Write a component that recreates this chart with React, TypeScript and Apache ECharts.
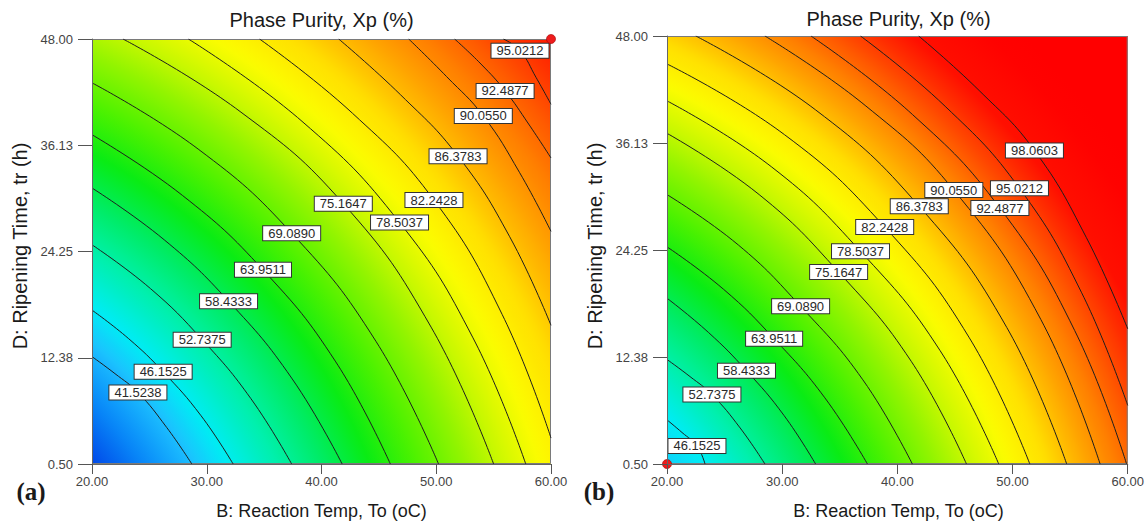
import React, { useEffect, useRef } from "react";
import * as echarts from "echarts";

const SANS = '"Liberation Sans", Arial, Helvetica, sans-serif';
const SERIF = '"Liberation Serif", "Times New Roman", serif';

// ---------- axes ----------
const X_TICKS = [20, 30, 40, 50, 60];
const Y_TICKS = [0.5, 12.375, 24.25, 36.125, 48];
const TITLE = "Phase Purity, Xp (%)";
const X_NAME = "B: Reaction Temp, To (oC)";
const Y_NAME = "D: Ripening Time, tr (h)";

// ---------- panel (a) ----------
const LEVELS_A = [41.5238, 46.1525, 52.7375, 58.4333, 63.9511, 69.089, 75.1647, 78.5037, 82.2428, 86.3783, 90.055, 92.4877, 95.0212];
const CONTOURS_A = [
  [[20, 12.5], [22.0, 10.6], [24.0, 8.5], [26.5, 4.6], [28.7, 0.5]],
  [[20, 17.7], [23.2, 14.5], [26.2, 10.8], [29.5, 5.9], [32.3, 0.5]],
  [[20, 25.0], [25.1, 20.1], [29.6, 14.4], [33.85, 7.8], [37.4, 0.5]],
  [[20, 31.35], [26.3, 25.55], [31.9, 18.7], [37.4, 10.1], [41.8, 0.5]],
  [[20, 37.3], [27.9, 30.5], [34.9, 22.2], [41.2, 12.0], [46.0, 0.5]],
  [[20, 43.1], [29.25, 35.7], [37.4, 26.3], [44.75, 14.2], [50.2, 0.5]],
  [[22.7, 48], [32.9, 39.9], [41.9, 29.6], [49.55, 15.8], [55.0, 0.5]],
  [[28.4, 48], [38.3, 38.8], [46.8, 27.5], [53.2, 14.6], [57.8, 0.5]],
  [[34.6, 48], [42.7, 39.7], [49.8, 30.0], [55.75, 17.2], [60, 3.4]],
  [[41.5, 48], [46.9, 41.75], [51.9, 34.9], [56.4, 25.9], [60, 16.0]],
  [[47.6, 48], [50.9, 43.8], [54.1, 39.4], [57.25, 33.1], [60, 26.5]],
  [[51.6, 48], [53.9, 45.2], [56.0, 42.2], [58.05, 38.5], [60, 34.7]],
  [[55.85, 48], [57.3, 46.7], [58.7, 43.7], [60, 40.7]],
];
const LABELS_A = [
  [24.0, 8.5], [26.2, 10.8], [29.6, 14.4], [31.9, 18.7], [34.9, 22.2], [37.4, 26.3],
  [41.9, 29.6], [46.8, 27.5], [49.8, 30.0], [51.9, 34.9], [54.1, 39.4], [56.0, 42.2], [57.3, 46.7],
];
const DESIGN_POINTS_A = [[60, 48]];
const CORNER_VALUES_A = [34, 97.5]; // bottom-left, top-right

// ---------- panel (b) ----------
const LEVELS_B = [46.1525, 52.7375, 58.4333, 63.9511, 69.089, 75.1647, 78.5037, 82.2428, 86.3783, 90.055, 92.4877, 95.0212, 98.0603];
const CONTOURS_B = [
  [[20, 5.4], [21.3, 4.0], [22.6, 2.5], [23.3, 0.5]],
  [[20, 12.1], [22.0, 10.2], [23.9, 8.2], [26.35, 4.5], [28.5, 0.5]],
  [[20, 18.9], [23.6, 15.1], [26.9, 10.85], [30.15, 5.9], [32.9, 0.5]],
  [[20, 24.6], [24.9, 19.9], [29.3, 14.4], [33.7, 7.85], [37.4, 0.5]],
  [[20, 30.4], [26.2, 24.8], [31.6, 18.0], [37.0, 9.85], [41.3, 0.5]],
  [[20, 37.2], [28.0, 30.4], [34.9, 21.8], [41.2, 11.9], [46.0, 0.5]],
  [[20, 40.8], [29.05, 33.5], [36.8, 24.1], [43.7, 13.1], [48.8, 0.5]],
  [[20, 44.9], [30.2, 37.05], [38.9, 26.8], [46.25, 14.5], [51.5, 0.5]],
  [[22.5, 48], [32.9, 39.8], [41.9, 29.1], [49.5, 15.65], [54.7, 0.5]],
  [[28.5, 48], [37.2, 40.3], [44.9, 30.9], [52.45, 16.55], [57.6, 0.5]],
  [[32.5, 48], [41.3, 39.3], [48.9, 28.9], [55.4, 15.3], [59.9, 0.5]],
  [[36.8, 48], [44.15, 40.2], [50.6, 31.1], [56.0, 19.5], [60, 7.0]],
  [[41.85, 48], [47.1, 41.95], [51.9, 35.3], [56.4, 25.65], [60, 15.5]],
];
const LABELS_B = [
  [22.6, 2.5], [23.9, 8.2], [26.9, 10.85], [29.3, 14.4], [31.6, 18.0], [34.9, 21.8], [36.8, 24.1],
  [38.9, 26.8], [41.9, 29.1], [44.9, 30.9], [48.9, 28.9], [50.6, 31.1], [51.9, 35.3],
];
const DESIGN_POINTS_B = [[20, 0.5]];
const CORNER_VALUES_B = [43.5, 100.5];

// ---------- colour scale (value -> colour) ----------
const SCALE_VALUES = [34, 38, 42, 46, 52, 57, 62, 67, 72, 76, 80, 84, 88, 91, 94, 97, 99];
const SCALE_COLORS = [
  "#0048e8", "#0888f8", "#1cc0ff", "#00ecf4", "#00f0a8", "#00ec64", "#08ec14", "#4cf200",
  "#90f400", "#ccf800", "#fcfc00", "#ffe000", "#ffa800", "#ff8000", "#ff5000", "#ff2000", "#ff0000",
];

function hexToRgb(h: string) {
  const n = parseInt(h.slice(1), 16);
  return [(n >> 16) & 255, (n >> 8) & 255, n & 255];
}
function colorFor(v: number): string {
  const vs = SCALE_VALUES;
  const cs = SCALE_COLORS;
  if (v <= vs[0]) return cs[0];
  if (v >= vs[vs.length - 1]) return cs[cs.length - 1];
  for (let i = 0; i < vs.length - 1; i++) {
    if (v <= vs[i + 1]) {
      const t = (v - vs[i]) / (vs[i + 1] - vs[i]);
      const a = hexToRgb(cs[i]);
      const b = hexToRgb(cs[i + 1]);
      const c = a.map((x, k) => Math.round(x + (b[k] - x) * t));
      return `rgb(${c[0]},${c[1]},${c[2]})`;
    }
  }
  return cs[cs.length - 1];
}

function circum(a: number[], b: number[], c: number[]) {
  const d = 2 * (a[0] * (b[1] - c[1]) + b[0] * (c[1] - a[1]) + c[0] * (a[1] - b[1]));
  if (Math.abs(d) < 1e-6) return null;
  const a2 = a[0] * a[0] + a[1] * a[1];
  const b2 = b[0] * b[0] + b[1] * b[1];
  const c2 = c[0] * c[0] + c[1] * c[1];
  const ux = (a2 * (b[1] - c[1]) + b2 * (c[1] - a[1]) + c2 * (a[1] - b[1])) / d;
  const uy = (a2 * (c[0] - b[0]) + b2 * (a[0] - c[0]) + c2 * (b[0] - a[0])) / d;
  return [ux, uy];
}
function median(arr: number[]) {
  const s = arr.slice().sort((x, y) => x - y);
  const m = Math.floor(s.length / 2);
  return s.length % 2 ? s[m] : (s[m - 1] + s[m]) / 2;
}

function makeBackground(contours: number[][][], levels: number[], corners: number[]) {
  return (params: any, api: any) => {
    const cs = params.coordSys;
    const pix = contours.map((l) => l.map((p) => api.coord(p)));
    const cxs: number[] = [];
    const cys: number[] = [];
    pix.forEach((l) => {
      if (l.length < 5) return;
      const c = circum(l[0], l[2], l[4]);
      if (c) {
        cxs.push(c[0]);
        cys.push(c[1]);
      }
    });
    const cx = median(cxs);
    const cy = median(cys);
    const dist = (p: number[]) => Math.hypot(p[0] - cx, p[1] - cy);
    const radii = pix.map((l) => l.reduce((s, p) => s + dist(p), 0) / l.length);
    const rLow = dist([cs.x, cs.y + cs.height]);
    const rHigh = dist([cs.x + cs.width, cs.y]);
    const knots: number[][] = [[rLow, corners[0]]];
    radii.forEach((r, i) => knots.push([r, levels[i]]));
    knots.push([rHigh, corners[1]]);
    const stops: any[] = [];
    let last = -1;
    for (let i = 0; i < knots.length - 1; i++) {
      const [r0, v0] = knots[i];
      const [r1, v1] = knots[i + 1];
      for (let k = 0; k < 6; k++) {
        const t = k / 6;
        const off = Math.min(1, Math.max(0, (r0 + (r1 - r0) * t) / rHigh));
        if (off <= last) continue;
        last = off;
        stops.push({ offset: off, color: colorFor(v0 + (v1 - v0) * t) });
      }
    }
    stops.push({ offset: 1, color: colorFor(corners[1]) });
    return {
      type: "group",
      children: [
        {
          type: "rect",
          shape: { x: cs.x, y: cs.y, width: cs.width, height: cs.height },
          style: {
            fill: { type: "radial", x: cx, y: cy, r: rHigh, global: true, colorStops: stops },
          },
        },
        {
          type: "rect",
          shape: { x: cs.x + 0.5, y: cs.y + 0.5, width: cs.width - 1, height: cs.height - 1 },
          style: { fill: "none", stroke: "#7a7a7a", lineWidth: 1 },
        },
      ],
    };
  };
}

function panelSeries(gi: number, contours: number[][][], levels: number[], labels: number[][], points: number[][], corners: number[]) {
  const s: any[] = [];
  s.push({
    type: "custom",
    xAxisIndex: gi,
    yAxisIndex: gi,
    z: 1,
    silent: true,
    data: [[20, 0.5]],
    encode: { x: 0, y: 1 },
    renderItem: makeBackground(contours, levels, corners),
  });
  contours.forEach((line, i) => {
    s.push({
      type: "line",
      name: levels[i].toFixed(4),
      xAxisIndex: gi,
      yAxisIndex: gi,
      data: line,
      smooth: 0.45,
      symbol: "none",
      lineStyle: { color: "#1e1e1e", width: 1 },
      silent: true,
      z: 3,
    });
  });
  s.push({
    type: "scatter",
    xAxisIndex: gi,
    yAxisIndex: gi,
    data: labels.map((p, i) => [p[0], p[1], levels[i]]),
    symbolSize: 1,
    itemStyle: { color: "rgba(0,0,0,0)", opacity: 1 },
    silent: true,
    z: 5,
    label: {
      show: true,
      position: "inside",
      formatter: (p: any) => p.value[2].toFixed(4),
      fontFamily: SANS,
      fontSize: 13,
      lineHeight: 13,
      color: "#2a2a2a",
      opacity: 1,
      backgroundColor: "#ffffff",
      borderColor: "#333",
      borderWidth: 1,
      padding: [1, 5, 0, 5],
    },
  });
  s.push({
    type: "scatter",
    xAxisIndex: gi,
    yAxisIndex: gi,
    data: points,
    symbolSize: 9,
    itemStyle: { color: "#ee1c1c", borderColor: "#a00000", borderWidth: 0.6, opacity: 1 },
    clip: false,
    silent: true,
    z: 6,
  });
  return s;
}

function xAxis(gi: number) {
  return {
    type: "value",
    gridIndex: gi,
    min: X_TICKS[0],
    max: X_TICKS[X_TICKS.length - 1],
    interval: 10,
    z: 10,
    axisLine: { show: true, onZero: false, lineStyle: { color: "#666", width: 1 } },
    axisTick: { show: true, length: 10, lineStyle: { color: "#555" } },
    axisLabel: { formatter: (v: number) => v.toFixed(2), fontSize: 13, color: "#444", margin: 11, fontFamily: SANS },
    splitLine: { show: false },
  };
}
function yAxis(gi: number) {
  return {
    type: "value",
    gridIndex: gi,
    min: Y_TICKS[0],
    max: Y_TICKS[Y_TICKS.length - 1],
    z: 10,
    axisLine: { show: true, onZero: false, lineStyle: { color: "#666", width: 1 } },
    axisTick: { show: true, length: 14, lineStyle: { color: "#555" }, customValues: Y_TICKS },
    axisLabel: {
      customValues: Y_TICKS,
      formatter: (v: number) => v.toFixed(2),
      fontSize: 13,
      color: "#444",
      margin: 19,
      fontFamily: SANS,
    },
    splitLine: { show: false },
  };
}

function txt(x: number, y: number, text: string, font: string, rotation = 0) {
  return {
    type: "text",
    x,
    y,
    rotation,
    silent: true,
    style: {
      text,
      font,
      fill: "#1a1a1a",
      align: "center",
      verticalAlign: "middle",
      textAlign: "center",
      textVerticalAlign: "middle",
    },
  };
}

export default function App() {
  const ref = useRef<HTMLDivElement>(null);
  useEffect(() => {
    if (!ref.current) return;
    const chart = echarts.init(ref.current, null, { renderer: "svg" });
    chart.setOption({
      animation: false,
      backgroundColor: "#ffffff",
      grid: [
        { left: 92, top: 39, width: 459, height: 425 },
        { left: 667, top: 36, width: 463, height: 428 },
      ],
      xAxis: [xAxis(0), xAxis(1)],
      yAxis: [yAxis(0), yAxis(1)],
      series: [
        ...panelSeries(0, CONTOURS_A, LEVELS_A, LABELS_A, DESIGN_POINTS_A, CORNER_VALUES_A),
        ...panelSeries(1, CONTOURS_B, LEVELS_B, LABELS_B, DESIGN_POINTS_B, CORNER_VALUES_B),
      ],
      graphic: [
        txt(321.5, 20, TITLE, `20px ${SANS}`),
        txt(898.5, 19, TITLE, `20px ${SANS}`),
        txt(321.5, 511, X_NAME, `18px ${SANS}`),
        txt(898.5, 511, X_NAME, `18px ${SANS}`),
        txt(20, 246, Y_NAME, `20px ${SANS}`, Math.PI / 2),
        txt(595, 246, Y_NAME, `20px ${SANS}`, Math.PI / 2),
        txt(31, 491, "(a)", `bold 25px ${SERIF}`),
        txt(599, 491, "(b)", `bold 25px ${SERIF}`),
      ],
    });
    return () => chart.dispose();
  }, []);
  return (
    <div
      ref={ref}
      style={{ position: "fixed", left: 0, top: 0, width: 1147, height: 529, background: "#fff" }}
    />
  );
}
